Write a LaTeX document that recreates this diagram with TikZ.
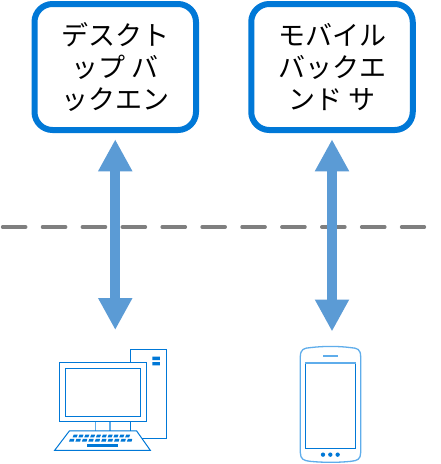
\documentclass[tikz,border=0pt]{standalone}
\usepackage{fontspec}
\newfontfamily\jpfont{Noto Sans CJK JP}
\usetikzlibrary{arrows.meta}
\definecolor{boxblue}{HTML}{0078D7}
\definecolor{arrowblue}{HTML}{5B9BD5}
\definecolor{iconlight}{HTML}{5FADEB}
\definecolor{dashgrey}{HTML}{7F7F7F}
\tikzset{
  backend/.style={draw=boxblue,line width=6pt,rounded corners=18pt,fill=white,minimum height=126pt,
    align=center,inner sep=0pt,font=\jpfont\fontsize{27}{32}\selectfont},
  link/.style={draw=arrowblue,line width=10pt,{Triangle[length=32pt,width=32pt]}-{Triangle[length=32pt,width=32pt]}},
  boundary/.style={draw=dashgrey,line width=3.3pt,line cap=round,dash pattern=on 23.3pt off 16.6pt},
  icon/.style={draw=boxblue,line width=1pt},
  iconsoft/.style={draw=iconlight,line width=1.3pt},
  iconfill/.style={fill=boxblue,draw=none}
}
\begin{document}
\begin{tikzpicture}[x=1pt,y=-1pt]
\useasboundingbox (0,0) rectangle (441,464);
\fill[white] (0,0) rectangle (441,464);
\node[backend,minimum width=161.5pt] (desk) at (115.25,67) {デスクト\\ップ バ\\ックエン};
\node[backend,minimum width=161.5pt] (mobile) at (332,67) {モバイル\\バックエ\\ンド サ};
\coordinate (bleft) at (2.5,227);
\coordinate (bright) at (424.5,227);
\draw[boundary] (bleft) -- (bright);
\coordinate (deskend) at (115.25,330);
\coordinate (mobileend) at (332,331.5);
\draw[link,shorten <=6.3pt] (desk.south) -- (deskend);
\draw[link,shorten <=6.3pt] (mobile.south) -- (mobileend);
% desktop computer icon
\begin{scope}[shift={(40pt,-340pt)},x=.3333pt,y=-.3333pt]
  \draw[icon] (271,67) -- (271,28) -- (380,28) -- (380,295) -- (305,295);
  \draw[icon] (271,245) -- (271,273);
  \fill[iconfill] (337,50) rectangle (360,60) (337,66) rectangle (360,76);
  \draw[iconsoft] (166,245) -- (166,273) (210,245) -- (210,273);
  \draw[icon] (60,67) rectangle (319,245);
  \draw[icon] (76,84) rectangle (302,230);
  \draw[icon] (88,273) -- (290,273) -- (331,331) -- (44,331) -- cycle;
  \foreach \i in {0,...,9}{
    \fill[boxblue] ({101+\i*17.5},284) -- ({113+\i*17.5},284) -- ({110+\i*17.5},292) -- ({98+\i*17.5},292) -- cycle;
    \fill[boxblue] ({90+\i*19.3},297) -- ({103+\i*19.3},297) -- ({101+\i*19.3},305) -- ({87+\i*19.3},305) -- cycle;
  }
  \fill[iconfill] (140,312) rectangle (235,320);
\end{scope}
% phone icon
\begin{scope}[shift={(280pt,-340pt)},x=.3333pt,y=-.3333pt]
  \draw[iconsoft] (61,50) .. controls (61,28) and (72,24) .. (90,23) .. controls (130,18) and (175,18) .. (213,23) .. controls (232,24) and (242,28) .. (242,50) -- (242,338) .. controls (242,358) and (232,362) .. (213,364) .. controls (175,368) and (130,368) .. (90,364) .. controls (72,362) and (61,358) .. (61,338) -- cycle;
  \fill[iconlight] (128,45) rectangle (174,51);
  \draw[icon] (76,68) rectangle (227,325);
  \fill[iconlight] (75,65) rectangle (228,71);
  \fill[boxblue] (129,344) circle (6.5) (151,344) circle (6.5) (173,344) circle (6.5);
\end{scope}
\end{tikzpicture}
\end{document}
